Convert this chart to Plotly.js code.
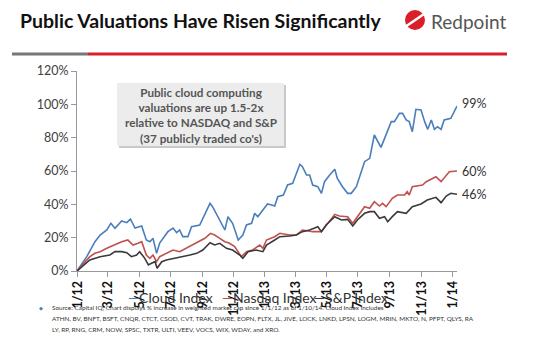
<!DOCTYPE html>
<html>
<head>
<meta charset="utf-8">
<script src="https://cdn.plot.ly/plotly-3.0.1.min.js"></script>
<style>html,body{margin:0;padding:0;background:#fff;}#chart{width:550px;height:350px;}</style>
</head>
<body>
<div id="chart"></div>
<script>
// ---- data ----
const cloudDates = ["2012-01-01","2012-01-20","2012-02-05","2012-02-15","2012-02-28","2012-03-07","2012-03-15","2012-03-28","2012-04-07","2012-04-14","2012-04-23","2012-05-06","2012-05-15","2012-05-22","2012-05-28","2012-06-04","2012-06-10","2012-06-26","2012-07-06","2012-07-13","2012-07-19","2012-07-25","2012-08-04","2012-08-11","2012-08-27","2012-09-04","2012-09-16","2012-09-21","2012-10-05","2012-10-15","2012-10-21","2012-10-30","2012-11-10","2012-11-19","2012-11-26","2012-12-06","2012-12-12","2012-12-18","2012-12-28","2013-01-06","2013-01-14","2013-01-20","2013-01-26","2013-02-06","2013-02-14","2013-02-24","2013-03-10","2013-03-15","2013-03-23","2013-03-29","2013-04-04","2013-04-14","2013-04-21","2013-04-27","2013-05-07","2013-05-17","2013-05-22","2013-06-01","2013-06-11","2013-06-18","2013-06-28","2013-07-07","2013-07-14","2013-07-24","2013-08-02","2013-08-15","2013-08-25","2013-09-04","2013-09-10","2013-09-20","2013-09-26","2013-10-03","2013-10-09","2013-10-15","2013-10-22","2013-11-01","2013-11-08","2013-11-14","2013-11-21","2013-11-27","2013-12-03","2013-12-10","2013-12-16","2013-12-29","2014-01-10"];
const cloudValues = [0,8.6,17.6,21.6,24.6,28.6,25.6,30,29,31.2,25.8,27,18.6,17.6,19.6,10.6,16.8,23.6,25.8,23,24.6,20.6,20.6,26.6,27.6,32.6,40.6,38.6,30.6,24.6,32.6,28.6,18.6,21.6,27.6,28.6,34.6,32.6,36.6,40.2,39.6,39,44.6,45.6,51.6,52.6,64,62.6,57.6,57.6,51.6,50.6,46.6,53.6,57.6,61,55.6,50.6,46.6,46.6,50.6,58.6,65.6,67.6,81.6,74.2,81.6,89.6,89.6,94.6,94.6,90.6,89.6,83.6,97,96.6,89.6,85,90.6,85,86.6,85,90.6,91.6,99];

const nasdaqDates = ["2012-01-01","2012-01-26","2012-02-05","2012-02-15","2012-02-28","2012-03-15","2012-03-28","2012-04-09","2012-04-19","2012-04-29","2012-05-06","2012-05-15","2012-05-22","2012-05-28","2012-06-04","2012-06-10","2012-06-23","2012-07-06","2012-07-19","2012-08-01","2012-08-14","2012-08-27","2012-09-06","2012-09-17","2012-09-25","2012-10-05","2012-10-15","2012-10-24","2012-11-03","2012-11-16","2012-11-26","2012-12-08","2012-12-22","2012-12-28","2013-01-04","2013-01-20","2013-01-30","2013-02-18","2013-03-03","2013-03-15","2013-04-04","2013-04-21","2013-05-03","2013-05-17","2013-05-26","2013-06-11","2013-06-21","2013-06-30","2013-07-14","2013-07-24","2013-08-02","2013-08-12","2013-08-18","2013-08-25","2013-09-06","2013-09-16","2013-09-30","2013-10-05","2013-10-09","2013-10-15","2013-10-25","2013-11-04","2013-11-11","2013-11-23","2013-11-30","2013-12-10","2013-12-20","2013-12-26","2014-01-10"];
const nasdaqValues = [0,8.6,10.6,11.6,13.6,15.6,17.6,18.6,15.6,16.6,17.6,9.6,7.6,9.6,5.6,8.6,10.6,12.6,11.6,13.6,15.6,17.6,19.6,22.6,21.6,19.6,17.6,16.6,14.6,8.6,11.6,12.6,15.6,13.6,18.6,20.6,22.6,21.6,21.6,24.6,23.6,23.6,28.6,34,33,32.6,28.6,32.6,38.6,37.6,41.6,39,40.6,38.6,43.6,45.6,45.6,47.6,45.6,50.6,51,51.6,53.6,55.6,56.6,53.6,57.6,59.6,60];

const spDates = ["2012-01-01","2012-01-26","2012-02-15","2012-03-05","2012-03-15","2012-03-28","2012-04-07","2012-04-16","2012-04-26","2012-05-02","2012-05-12","2012-05-19","2012-05-25","2012-06-01","2012-06-05","2012-06-14","2012-06-23","2012-07-06","2012-07-23","2012-08-08","2012-08-21","2012-09-02","2012-09-16","2012-09-25","2012-10-05","2012-10-18","2012-10-30","2012-11-13","2012-11-19","2012-11-29","2012-12-15","2012-12-28","2013-01-04","2013-01-20","2013-01-30","2013-02-18","2013-03-03","2013-03-15","2013-03-29","2013-04-14","2013-04-21","2013-04-30","2013-05-17","2013-05-30","2013-06-11","2013-06-21","2013-06-30","2013-07-14","2013-07-24","2013-08-02","2013-08-12","2013-08-22","2013-08-28","2013-09-06","2013-09-16","2013-10-03","2013-10-15","2013-11-01","2013-11-13","2013-11-30","2013-12-10","2013-12-20","2013-12-29","2014-01-10"];
const spValues = [0,6.6,8.6,9.6,11.6,11.6,11,8.6,9.6,11.6,7.6,3.6,4.6,5.6,1.6,5.6,6.6,7.6,8.6,9.6,10.6,12.6,17,15.6,16.6,13.6,12.6,9.6,7.6,11.6,12.6,11.6,15.6,18.6,20.6,21,21.6,23.6,24.6,26.6,23.6,27.6,32.6,30.6,31,27,30.6,34.6,35.6,35.6,31.6,32.6,29.6,32.6,35.6,34.6,38.6,40.2,42.6,44.2,41,45,46.6,46];

const seriesNames = ["Cloud Index","Nasdaq Index","S&P Index"];
const tickVals = ["2012-01-01","2012-03-01","2012-05-01","2012-07-01","2012-09-01","2012-11-01","2013-01-01","2013-03-01","2013-05-01","2013-07-01","2013-09-01","2013-11-01","2014-01-01"];
const tickText = ["1/12","3/12","5/12","7/12","9/12","11/12","1/13","3/13","5/13","7/13","9/13","11/13","1/14"];
const yTicks = [0,20,40,60,80,100,120];
const yTickText = ["0%","20%","40%","60%","80%","100%","120%"];
const boxLines = ["Public cloud computing","valuations are up 1.5-2x","relative to NASDAQ and S&P","(37 publicly traded co's)"];
const footLines = [
  "Source: Capital IQ; Chart displays % increase in weighted market cap since 1/1/12 as of 1/10/14. Cloud Index includes",
  "ATHN, BV, BNFT, BSFT, CNQR, CTCT, CSOD, CVT, TRAK, DWRE, EOPN, FLTX, JL, JIVE, LOCK, LNKD, LPSN, LOGM, MRIN, MKTO, N, PFPT, QLYS, RA",
  "LY, RP, RNG, CRM, NOW, SPSC, TXTR, ULTI, VEEV, VOCS, WIX, WDAY, and XRO."
];

// ---- chart ----
const colors = ["#4a7ebb","#c0504d","#3a3a3a"];
const allDates = [cloudDates, nasdaqDates, spDates];
const allValues = [cloudValues, nasdaqValues, spValues];
const FONT = "Lato, 'Open Sans', sans-serif";

const traces = seriesNames.map((n,i)=>({
  x: allDates[i], y: allValues[i], name: n, type: "scatter", mode: "lines",
  line: {color: colors[i], width: 1.6}, showlegend:false
}));

// plot area in pixels, used to place decorations in paper coords
const PL=77, PR=457, PT=71, PB=271;
const px = v => (v-PL)/(PR-PL);
const py = v => (PB-v)/(PB-PT);
const LABEL_TOP = 281;   // pixel row where the rotated x labels start

const annotations = [];
// end labels
allValues.forEach((vals,i)=>{
  const last = vals.length-1;
  annotations.push({x: allDates[i][last], y: vals[last], xref:"x", yref:"y",
    text: Math.round(vals[last])+"%", showarrow:false, xanchor:"left", yanchor:"middle",
    xshift: 3, yshift: [3,0,0][i], font:{family:FONT, size:12.5, color:"#333"}});
});
// legend (text with coloured dash)
const legendX = [126, 220, 312];
seriesNames.forEach((n,i)=>{
  annotations.push({x: px(legendX[i]), y: py(297), xref:"paper", yref:"paper",
    text: '<span style="color:'+colors[i]+'">\u2014</span>'+n.replace("&","&amp;"),
    showarrow:false, xanchor:"left", yanchor:"middle", font:{family:FONT, size:14, color:"#333"}});
});
// box text
annotations.push({x: px(201), y: py(114.5), xref:"paper", yref:"paper", text: boxLines.join("<br>").replace(/&/g,"&amp;"),
  showarrow:false, xanchor:"center", yanchor:"middle", align:"center",
  font:{family:FONT, size:11.7, color:"#555", weight:"bold"}});
// logo text
annotations.push({x: px(429), y: py(21), xref:"paper", yref:"paper", text:"Redpoint",
  showarrow:false, xanchor:"left", yanchor:"middle", font:{family:FONT, size:19, color:"#555"}});
// footnote
annotations.push({x: px(37), y: py(307.5), xref:"paper", yref:"paper", text:"\u25C6",
  showarrow:false, xanchor:"left", yanchor:"middle", font:{family:FONT, size:5, color:"#4a7ebb"}});
footLines.forEach((t,k)=>{
  annotations.push({x: px(50), y: py(307.5 + k*11.2), xref:"paper", yref:"paper", text: t,
    showarrow:false, xanchor:"left", yanchor:"middle", font:{family:FONT, size:6.4, color:"#333"}});
});

const shapes = [
  // title underline
  {type:"line", xref:"paper", yref:"paper", x0:px(12), x1:px(88), y0:py(54), y1:py(54), line:{color:"#777", width:3}},
  {type:"line", xref:"paper", yref:"paper", x0:px(88), x1:px(507), y0:py(54), y1:py(54), line:{color:"#d9202a", width:3}},
  // logo
  {type:"circle", xref:"paper", yref:"paper", x0:px(405), x1:px(425), y0:py(30), y1:py(10), fillcolor:"#d9202a", line:{width:0}},
  {type:"line", xref:"paper", yref:"paper", x0:px(405), x1:px(424), y0:py(27), y1:py(14), line:{color:"#fff", width:2.5}},
  // text box shadow + box
  {type:"rect", xref:"paper", yref:"paper", x0:px(119), x1:px(286), y0:py(148), y1:py(85), fillcolor:"#c9c9c9", line:{width:0}, layer:"below"},
  {type:"rect", xref:"paper", yref:"paper", x0:px(117), x1:px(284), y0:py(146), y1:py(83), fillcolor:"#ececec", line:{width:0}, layer:"below"}
];

const layout = {
  width:550, height:350,
  margin:{l:PL, r:550-PR, t:PT, b:350-PB},
  paper_bgcolor:"#fff", plot_bgcolor:"#fff",
  font:{family:FONT},
  showlegend:false,
  title:{text:"Public Valuations Have Risen Significantly", x:20/550, xanchor:"left", xref:"container",
    y:1-21/350, yanchor:"middle", yref:"container",
    font:{family:FONT, size:19.5, color:"#111", weight:"bold"}},
  xaxis:{type:"date", range:["2012-01-01","2014-01-10"], tickvals:tickVals, ticktext:tickText,
    tickangle:-90, ticks:"outside", ticklen:5, tickcolor:"#999", showline:true, linecolor:"#999",
    linewidth:1, showgrid:false, zeroline:false, automargin:false,
    tickfont:{family:FONT, size:12.5, color:"#111", weight:"bold"}},
  yaxis:{range:[0,120], tickvals:yTicks, ticktext:yTickText, ticks:"outside", ticklen:5,
    tickcolor:"#999", showline:true, linecolor:"#999", linewidth:1, showgrid:false, zeroline:false,
    tickfont:{family:FONT, size:12.5, color:"#404040"}},
  annotations: annotations,
  shapes: shapes
};

Plotly.newPlot("chart", traces, layout, {displayModeBar:false, staticPlot:true}).then(gd => {
  // place the rotated x tick labels explicitly: reading upward, top end just under the axis
  const xa = gd._fullLayout.xaxis;
  const svgRect = gd.querySelector(".main-svg").getBoundingClientRect();
  gd.querySelectorAll(".xtick text").forEach((t, k) => {
    const d = t.__data__;
    const X = xa._offset + xa.l2p(d && d.x !== undefined ? d.x : xa.d2l(tickVals[k]));
    const len = t.getComputedTextLength();
    const ctm = t.parentNode.getScreenCTM();
    const ox = ctm ? ctm.e - svgRect.left : 0, oy = ctm ? ctm.f - svgRect.top : 0;
    const xb = X + 4.5 - ox, yb = LABEL_TOP + len - oy;
    t.removeAttribute("dy");
    t.setAttribute("text-anchor", "start");
    t.style.textAnchor = "start";
    t.setAttribute("x", xb);
    t.setAttribute("y", yb);
    t.setAttribute("transform", "rotate(-90," + xb + "," + yb + ")");
  });
});
</script>
</body>
</html>
